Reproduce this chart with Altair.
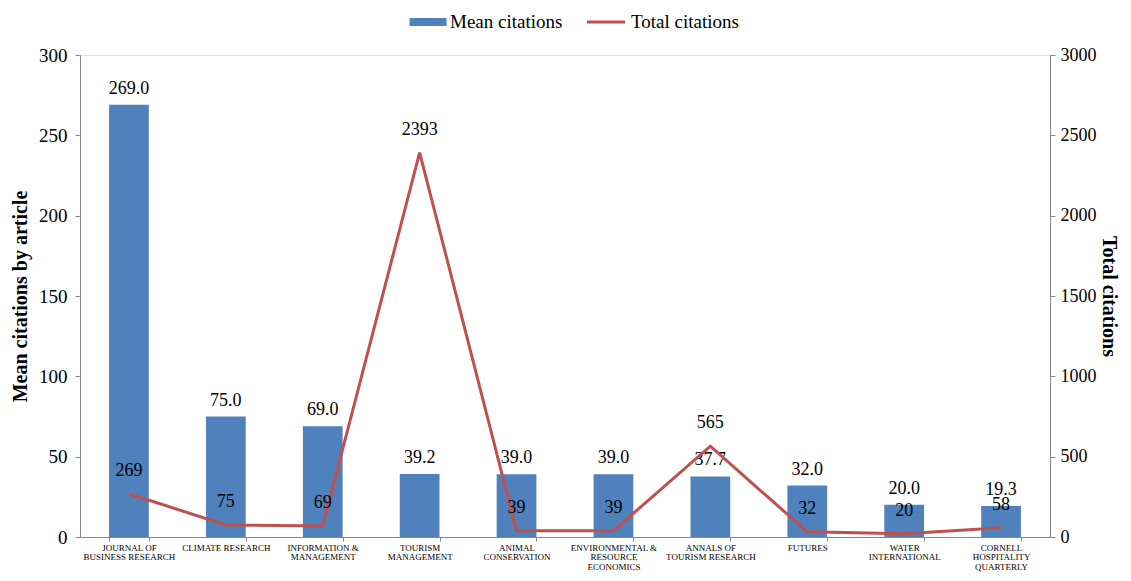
import json
import altair as alt
import pandas as pd

categories = [
    "JOURNAL OF BUSINESS RESEARCH", "CLIMATE RESEARCH", "INFORMATION & MANAGEMENT",
    "TOURISM MANAGEMENT", "ANIMAL CONSERVATION", "ENVIRONMENTAL & RESOURCE ECONOMICS",
    "ANNALS OF TOURISM RESEARCH", "FUTURES", "WATER INTERNATIONAL",
    "CORNELL HOSPITALITY QUARTERLY",
]
label_lines = [
    ["JOURNAL OF", "BUSINESS RESEARCH"], ["CLIMATE RESEARCH"], ["INFORMATION &", "MANAGEMENT"],
    ["TOURISM", "MANAGEMENT"], ["ANIMAL", "CONSERVATION"], ["ENVIRONMENTAL &", "RESOURCE", "ECONOMICS"],
    ["ANNALS OF", "TOURISM RESEARCH"], ["FUTURES"], ["WATER", "INTERNATIONAL"],
    ["CORNELL", "HOSPITALITY", "QUARTERLY"],
]
mean_citations = [269.0, 75.0, 69.0, 39.2, 39.0, 39.0, 37.7, 32.0, 20.0, 19.3]
total_citations = [269, 75, 69, 2393, 39, 39, 565, 32, 20, 58]

df = pd.DataFrame({"journal": categories, "mean": mean_citations, "total": total_citations})

FONT = "Liberation Serif"
BAR = "#4F81BD"
LINE = "#C0504D"
AXC = "#868686"

label_map = json.dumps(dict(zip(categories, label_lines)))

x_enc = alt.X(
    "journal:N", sort=categories, title=None,
    scale=alt.Scale(paddingInner=0.59, paddingOuter=0.3),
    axis=alt.Axis(labelExpr=f"{label_map}[datum.label]", labelAngle=0, labelFontSize=9,
                  labelLineHeight=9.5, labelPadding=2, tickBand="extent", tickSize=4,
                  domainColor=AXC, tickColor=AXC, labelColor="black", labelFont=FONT,
                  labelBaseline="top", grid=False),
)

base = alt.Chart(df)

bars = base.mark_bar(color=BAR).transform_calculate(s="'Mean citations'").encode(
    x=x_enc,
    y=alt.Y("mean:Q", scale=alt.Scale(domain=[0, 300]),
            axis=alt.Axis(title="Mean citations by article", values=[0, 50, 100, 150, 200, 250, 300],
                          orient="left", titleFontSize=20, titleFontWeight="bold", titleFont=FONT,
                          titleColor="black", labelFontSize=19, labelFont=FONT, labelColor="black",
                          domainColor=AXC, tickColor=AXC, tickSize=5, labelPadding=8, grid=False,
                          titlePadding=8, format="d")),
    color=alt.Color("s:N", scale=alt.Scale(domain=["Mean citations"], range=[BAR]),
                    legend=alt.Legend(title=None, orient="none", legendX=336, legendY=-45,
                                      symbolType="M-1.6,-0.35L1.6,-0.35L1.6,0.35L-1.6,0.35Z",
                                      symbolSize=535, labelFontSize=19, labelFont=FONT, labelColor="black",
                                      symbolStrokeWidth=0, labelOffset=10)),
)
bar_text = base.mark_text(dy=-16, fontSize=18, font=FONT, color="black").encode(
    x=x_enc,
    y=alt.Y("mean:Q"),
    text=alt.Text("mean:Q", format=".1f"),
)

line = base.mark_line(strokeWidth=3).transform_calculate(s2="'Total citations'").encode(
    x=x_enc,
    y=alt.Y("total:Q", scale=alt.Scale(domain=[0, 3000]),
            axis=alt.Axis(title="Total citations", values=[0, 500, 1000, 1500, 2000, 2500, 3000],
                          orient="right", titleAngle=90, titleFontSize=20, titleFontWeight="bold",
                          titleFont=FONT, titleColor="black", labelFontSize=18, labelFont=FONT,
                          labelColor="black", domainColor=AXC, tickColor=AXC, tickSize=5,
                          labelPadding=5, grid=False, titlePadding=2, format="d")),
    stroke=alt.Stroke("s2:N", scale=alt.Scale(domain=["Total citations"], range=[LINE]),
                      legend=alt.Legend(title=None, orient="none", legendX=505, legendY=-54,
                                        symbolType="stroke", symbolSize=1450,
                                        symbolStrokeWidth=3, labelFontSize=19, labelFont=FONT,
                                        labelColor="black", labelOffset=4)),
)
line_text = base.mark_text(dy=-23, fontSize=18, font=FONT, color="black").encode(
    x=x_enc,
    y=alt.Y("total:Q"),
    text=alt.Text("total:Q", format="d"),
)

chart = alt.layer(
    alt.layer(bars, bar_text),
    alt.layer(line, line_text),
).resolve_scale(y="independent").resolve_legend(color="independent", stroke="independent").properties(
    width=970, height=482,
    padding={"left": 72, "top": 47, "right": 73, "bottom": 36},
    autosize=alt.AutoSizeParams(type="none"),
).configure_view(stroke=None, strokeWidth=0).configure_axis(grid=False).configure(font=FONT)

chart.save("out.html", embed_options={"renderer": "svg", "actions": False})
